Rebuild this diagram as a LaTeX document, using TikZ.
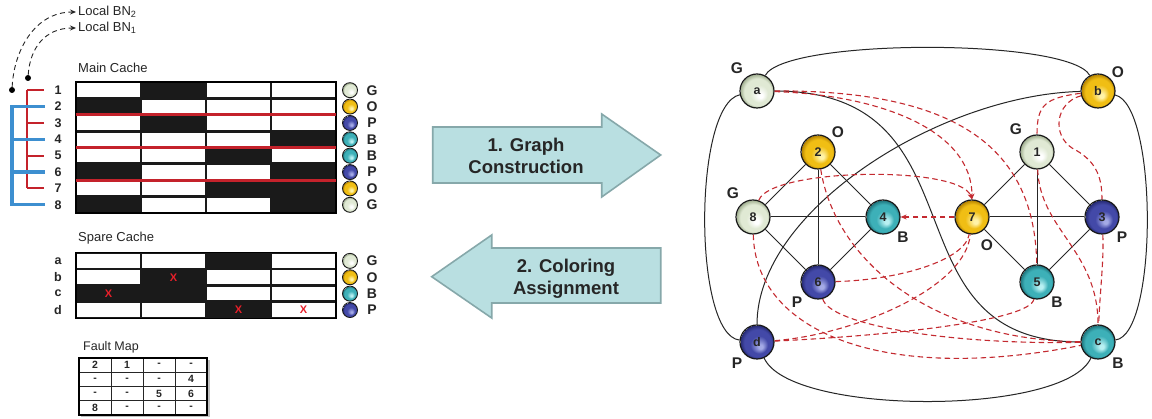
\documentclass[tikz,border=0pt]{standalone}
\usepackage{fontspec}
\setmainfont{Liberation Sans}
\usetikzlibrary{arrows.meta}

% ball colours: highlight, body, rim
\definecolor{gHL}{HTML}{FFFFFF}
\definecolor{gBase}{HTML}{E0E9D4}
\definecolor{gRim}{HTML}{9DAC8C}
\definecolor{oHL}{HTML}{FFF3A8}
\definecolor{oBase}{HTML}{F0BE14}
\definecolor{oRim}{HTML}{B07E00}
\definecolor{bHL}{HTML}{B8F0F2}
\definecolor{bBase}{HTML}{3DB0B8}
\definecolor{bRim}{HTML}{1C6F77}
\definecolor{pHL}{HTML}{A4AAE6}
\definecolor{pBase}{HTML}{4349A8}
\definecolor{pRim}{HTML}{23276E}
\definecolor{linered}{HTML}{C4222B}
\definecolor{treeblue}{HTML}{3D8FD0}
\definecolor{dashred}{HTML}{C42A30}
\definecolor{markred}{HTML}{E8202A}
\definecolor{arrowfill}{HTML}{B9DFE1}
\definecolor{arrowedge}{HTML}{86A8AA}
\definecolor{cellblack}{HTML}{1A1A1A}

\pgfdeclareradialshading{glassG}{\pgfpoint{6bp}{-8bp}}{color(0bp)=(gHL); color(3bp)=(gHL); color(13bp)=(gBase); color(20bp)=(gBase); color(25bp)=(gRim)}
\pgfdeclareradialshading{glassO}{\pgfpoint{6bp}{-8bp}}{color(0bp)=(oHL); color(3bp)=(oHL); color(13bp)=(oBase); color(20bp)=(oBase); color(25bp)=(oRim)}
\pgfdeclareradialshading{glassB}{\pgfpoint{6bp}{-8bp}}{color(0bp)=(bHL); color(3bp)=(bHL); color(13bp)=(bBase); color(20bp)=(bBase); color(25bp)=(bRim)}
\pgfdeclareradialshading{glassP}{\pgfpoint{6bp}{-8bp}}{color(0bp)=(pHL); color(3bp)=(pHL); color(13bp)=(pBase); color(20bp)=(pBase); color(25bp)=(pRim)}

\tikzset{
  glass/.style={path picture={\shade[shading=#1] (path picture bounding box.south west) rectangle (path picture bounding box.north east);}},
  ballbase/.style={circle, inner sep=0pt, draw=black!90, text=black!85},
  bigball/.style={ballbase, minimum size=34pt, line width=1.2pt, font=\bfseries\fontsize{12.5}{12.5}\selectfont},
  tinyball/.style={ballbase, minimum size=15pt, line width=0.9pt},
  colourtag/.style={font=\bfseries\fontsize{14}{14}\selectfont, text=black!85},
  graphtag/.style={font=\bfseries\fontsize{15.5}{15.5}\selectfont, text=black!85},
  rowtag/.style={font=\bfseries\fontsize{12.5}{12.5}\selectfont, text=black!85},
  caption/.style={font=\fontsize{13}{13}\selectfont, text=black!85, anchor=west, inner sep=0pt},
  xmark/.style={font=\bfseries\fontsize{11}{11}\selectfont, text=markred},
  fmtext/.style={font=\bfseries\fontsize{10.5}{10.5}\selectfont, text=black!85},
  solidedge/.style={draw=black!85, line width=1pt},
  conflict/.style={draw=dashred, line width=1.1pt, dash pattern=on 5.5pt off 3.5pt},
  tip/.style={-{Stealth[length=6pt,width=5pt]}},
  bigarrow/.style={fill=arrowfill, draw=arrowedge, line width=1.6pt, line join=miter},
  arrowtext/.style={font=\bfseries\fontsize{18.5}{22}\selectfont, text=black!85, align=center},
}

\begin{document}
\begin{tikzpicture}[x=1pt,y=-1pt]
\useasboundingbox[fill=white] (0,0) rectangle (1152,419);

% ---------- local bit-line links ----------
\node[caption] (bn2) at (78,12) {Local BN\textsubscript{2}};
\node[caption] (bn1) at (78,28) {Local BN\textsubscript{1}};
\node[circle, fill=black, inner sep=0pt, minimum size=6pt] (src2) at (12,90) {};
\node[circle, fill=black, inner sep=0pt, minimum size=6pt] (src1) at (28,78) {};
\draw[black!85, line width=0.9pt, dash pattern=on 5pt off 3.5pt, tip] (src2) .. controls (14,50) and (35,12) .. ([xshift=-2pt]bn2.west);
\draw[black!85, line width=0.9pt, dash pattern=on 5pt off 3.5pt, tip] (src1) .. controls (30,48) and (45,28) .. ([xshift=-2pt]bn1.west);

% ---------- main cache ----------
\node[caption] (maincap) at (78,68) {Main Cache};
\fill[cellblack] (76,82) rectangle (336,213);
\draw[black, line width=1.2pt] (76,82) rectangle (336,213);
\foreach \r/\c in {1/1,1/3,1/4, 2/2,2/3,2/4, 3/1,3/3,3/4, 4/1,4/2,4/3, 5/1,5/2,5/4, 6/2,6/3, 7/1,7/2, 8/2,8/3}
  \fill[white] ({76+(\c-1)*65+1.4},{82+(\r-1)*16.375+1.4}) rectangle ({76+\c*65-1.4},{82+\r*16.375-1.4});
\foreach \y in {114.75,147.5,180.25}
  \draw[linered, line width=3pt] (76,\y) -- (336,\y);

% row numbers, colour balls and colour letters
\foreach \i/\col/\tg in {1/G/G,2/O/O,3/P/P,4/B/B,5/B/B,6/P/P,7/O/O,8/G/G}{
  \node[rowtag] (row\i) at (58,{82+(\i-0.5)*16.375}) {\i};
  \node[tinyball, glass=glass\col] (mb\i) at (350,{82+(\i-0.5)*16.375}) {};
  \node[colourtag] (mt\i) at (372,{82+(\i-0.5)*16.375}) {\tg};
}

% odd / even row trees
\draw[linered, line width=2pt] (27,90.19) -- (27,188.44);
\foreach \i in {1,3,5,7}
  \draw[linered, line width=2pt] (27,{82+(\i-0.5)*16.375}) -- (44,{82+(\i-0.5)*16.375});
\draw[treeblue, line width=3.2pt] (12,106.56) -- (12,204.81);
\foreach \i in {2,4,6,8}
  \draw[treeblue, line width=3.2pt] (10.4,{82+(\i-0.5)*16.375}) -- (45,{82+(\i-0.5)*16.375});

% ---------- spare cache ----------
\node[caption] (sparecap) at (78,238) {Spare Cache};
\fill[cellblack] (76,252.7) rectangle (336,318.2);
\draw[black, line width=1.2pt] (76,252.7) rectangle (336,318.2);
\foreach \r/\c in {1/1,1/2,1/4, 2/1,2/3,2/4, 3/3,3/4, 4/1,4/2,4/4}
  \fill[white] ({76+(\c-1)*65+1.4},{252.7+(\r-1)*16.375+1.4}) rectangle ({76+\c*65-1.4},{252.7+\r*16.375-1.4});
\foreach \r/\c in {2/2,3/1,4/3,4/4}
  \node[xmark] (x\r\c) at ({76+(\c-0.5)*65},{252.7+(\r-0.5)*16.375}) {X};
\foreach \i/\sn/\col in {1/a/G,2/b/O,3/c/B,4/d/P}{
  \node[rowtag] (srow\sn) at (58,{252.7+(\i-0.5)*16.375}) {\sn};
  \node[tinyball, glass=glass\col] (sb\sn) at (350,{252.7+(\i-0.5)*16.375}) {};
  \node[colourtag] (st\sn) at (372,{252.7+(\i-0.5)*16.375}) {\col};
}

% ---------- fault map ----------
\node[caption, font=\fontsize{12.5}{12.5}\selectfont] (faultcap) at (83,347) {Fault Map};
\fill[black!25] (81,360) rectangle (209.5,417.5);
\fill[white] (79,358) rectangle (207,415);
\draw[black!85, line width=1pt] (79,372.25) -- (207,372.25) (79,386.5) -- (207,386.5) (79,400.75) -- (207,400.75)
  (111,358) -- (111,415) (143,358) -- (143,415) (175,358) -- (175,415);
\draw[black, line width=1.6pt] (79,358) rectangle (207,415);
\foreach \r/\c/\t in {1/1/2,1/2/1,1/3/-,1/4/-, 2/1/-,2/2/-,2/3/-,2/4/4, 3/1/-,3/2/-,3/3/5,3/4/6, 4/1/8,4/2/-,4/3/-,4/4/-}
  \node[fmtext] (fm\r\c) at ({79+(\c-0.5)*32},{358+(\r-0.5)*14.25}) {\t};

% ---------- step arrows ----------
\draw[bigarrow] (432.7,127) -- (601.7,127) -- (601.7,114) -- (660.7,155) -- (601.7,197) -- (601.7,183) -- (432.7,183) -- cycle;
\node[arrowtext] (step1) at (526,156) {1. Graph\\Construction};
\draw[bigarrow] (660.7,248) -- (491.7,248) -- (491.7,235) -- (431.7,276.7) -- (491.7,318) -- (491.7,303) -- (660.7,303) -- cycle;
\node[arrowtext] (step2) at (566,278.5) {2. Coloring\\Assignment};

% ---------- conflict graph ----------
\node[bigball, glass=glassG] (a) at (757,91) {a};
\node[bigball, glass=glassO] (b) at (1098,91) {b};
\node[bigball, glass=glassO] (n2) at (818,152) {2};
\node[bigball, glass=glassG] (n1) at (1037,152) {1};
\node[bigball, glass=glassG] (n8) at (753,217) {8};
\node[bigball, glass=glassB] (n4) at (883,217) {4};
\node[bigball, glass=glassO] (n7) at (972,217) {7};
\node[bigball, glass=glassP] (n3) at (1102,217) {3};
\node[bigball, glass=glassP] (n6) at (818,282) {6};
\node[bigball, glass=glassB] (n5) at (1037,282) {5};
\node[bigball, glass=glassP] (d) at (757,342) {d};
\node[bigball, glass=glassB] (c) at (1098,342) {c};

\node[graphtag] (ta) at (737,68) {G};
\node[graphtag] (tb) at (1118,72) {O};
\node[graphtag] (t2) at (838,132) {O};
\node[graphtag] (t1) at (1016,129) {G};
\node[graphtag] (t8) at (733,193) {G};
\node[graphtag] (t4) at (903,237) {B};
\node[graphtag] (t7) at (987,245) {O};
\node[graphtag] (t3) at (1122,237) {P};
\node[graphtag] (t6) at (797,302) {P};
\node[graphtag] (t5) at (1057,302) {B};
\node[graphtag] (td) at (737,363) {P};
\node[graphtag] (tc) at (1118,363) {B};

% spare rows: mutual edges
\draw[solidedge] (a) .. controls (785,38) and (1070,38) .. (b);
\draw[solidedge] (a) .. controls (693,105) and (693,335) .. (d);
\draw[solidedge] (b) .. controls (1158,105) and (1158,335) .. (c);
\draw[solidedge] (d) .. controls (790,416) and (1065,416) .. (c);
\draw[solidedge] (a) .. controls (990,91) and (880,342) .. (c);
\draw[solidedge] (b) .. controls (940,95) and (757,210) .. (d);

% main rows: mutual edges
\foreach \u/\v in {n2/n8,n2/n4,n2/n6,n8/n4,n8/n6,n4/n6,n1/n7,n1/n3,n1/n5,n7/n3,n7/n5,n3/n5}
  \draw[solidedge] (\u) -- (\v);

% conflicts between spare rows and main rows
\draw[conflict, tip] (a) .. controls (880,95) and (972,130) .. (n7.north);
\draw[conflict, tip] (n8) .. controls (770,168) and (960,165) .. (n7.north);
\draw[conflict, tip] (n7) -- (n4);
\draw[conflict] (a) .. controls (960,90) and (1035,150) .. (n5);
\draw[conflict] (n1) .. controls (1040,230) and (1098,250) .. (c);
\draw[conflict] (b) .. controls (1045,98) and (1037,105) .. (n1);
\draw[conflict] (b) .. controls (1055,103) and (1052,135) .. (1072,148) .. controls (1095,160) and (1102,175) .. (n3);
\draw[conflict] (n3) .. controls (1104,260) and (1100,290) .. (c);
\draw[conflict] (n2) .. controls (835,260) and (930,340) .. (c);
\draw[conflict] (n6) .. controls (900,280) and (965,260) .. (n7);
\draw[conflict] (n6) .. controls (830,325) and (950,345) .. (c);
\draw[conflict] (d) .. controls (850,335) and (965,290) .. (n7);
\draw[conflict] (d) .. controls (900,335) and (1030,320) .. (n5);
\draw[conflict] (n8) .. controls (755,330) and (880,385) .. (c);
\end{tikzpicture}
\end{document}
